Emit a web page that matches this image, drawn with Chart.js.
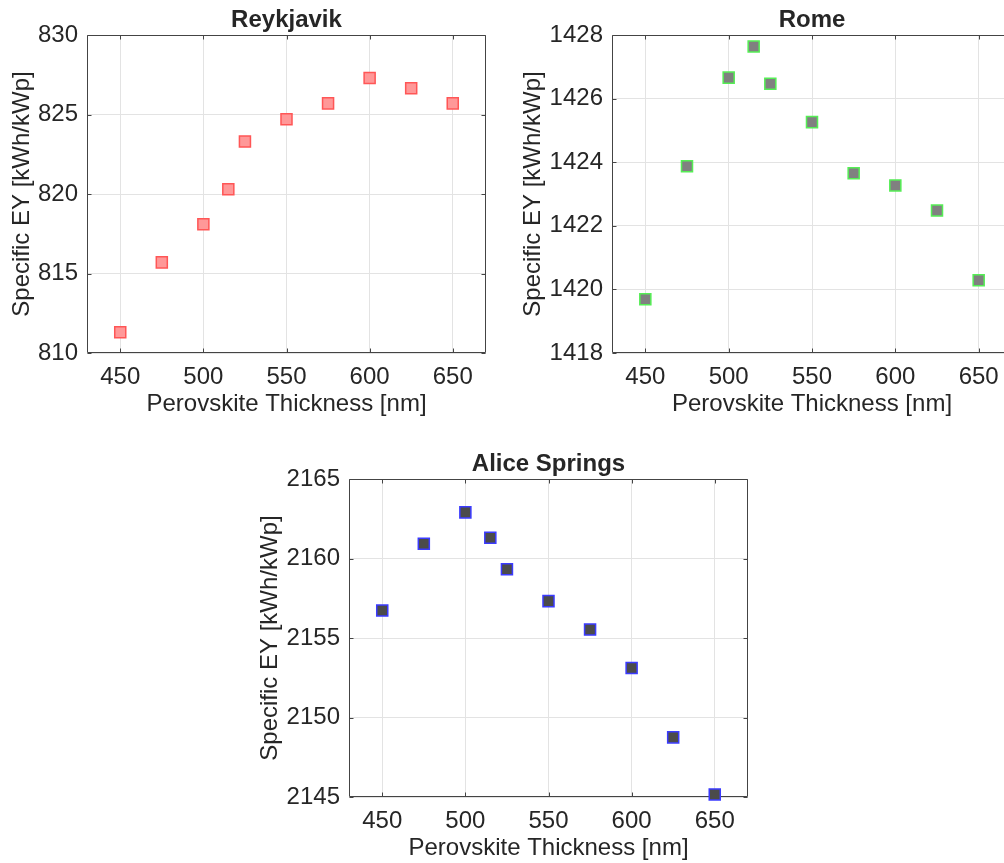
<!DOCTYPE html>
<html>
<head>
<meta charset="utf-8">
<script src="https://cdn.jsdelivr.net/npm/chart.js@4.4.0/dist/chart.umd.min.js"></script>
<style>
  html, body { margin: 0; padding: 0; background: #fff; overflow: hidden; width: 1004px; height: 863px; }
  canvas { position: absolute; }
</style>
</head>
<body>
<canvas id="reykjavik" width="500" height="430" style="left:0;top:0"></canvas>
<canvas id="rome" width="515" height="430" style="left:511px;top:0"></canvas>
<canvas id="alice" width="514" height="434" style="left:248px;top:440px"></canvas>
<script>
// x values shared by all three locations
const thickness = [450, 475, 500, 515, 525, 550, 575, 600, 625, 650];

// Specific energy yield per location
const reykjavikEY = [811.3, 815.7, 818.1, 820.3, 823.3, 824.7, 825.7, 827.3, 826.65, 825.7];
const romeEY = [1419.69, 1423.87, 1426.66, 1427.64, 1426.47, 1425.26, 1423.65, 1423.27, 1422.48, 1420.29];
const aliceEY = [2156.73, 2160.93, 2162.9, 2161.31, 2159.33, 2157.32, 2155.53, 2153.12, 2148.75, 2145.16];

// tick labels
const xTicks = [450, 500, 550, 600, 650];
const reykjavikTicks = [810, 815, 820, 825, 830];
const romeTicks = [1418, 1420, 1422, 1424, 1426, 1428];
const aliceTicks = [2145, 2150, 2155, 2160, 2165];

const fontFamily = '"Liberation Sans", Arial, sans-serif';
const textColor = '#262626';

// MATLAB style box with inward ticks and a bold title, drawn under the markers
const axesFrame = {
    id: 'axesFrame',
    beforeDatasetsDraw(chart, args, opts) {
        const { ctx, chartArea: a, scales: { x, y } } = chart;
        ctx.save();
        ctx.strokeStyle = '#444';
        ctx.lineWidth = 1;
        ctx.beginPath();
        const l = Math.round(a.left) + 0.5, r = Math.round(a.right) - 0.5;
        const t = Math.round(a.top) + 0.5, b = Math.round(a.bottom) - 0.5;
        ctx.rect(l, t, r - l, b - t);
        x.ticks.forEach(tk => {
            const px = Math.round(x.getPixelForValue(tk.value)) + 0.5;
            ctx.moveTo(px, b); ctx.lineTo(px, b - 4);
            ctx.moveTo(px, t); ctx.lineTo(px, t + 4);
        });
        y.ticks.forEach(tk => {
            const py = Math.round(y.getPixelForValue(tk.value)) + 0.5;
            ctx.moveTo(l, py); ctx.lineTo(l + 4, py);
            ctx.moveTo(r, py); ctx.lineTo(r - 4, py);
        });
        ctx.stroke();

        ctx.fillStyle = textColor;
        ctx.font = 'bold 24px ' + fontFamily;
        ctx.textAlign = 'center';
        ctx.textBaseline = 'alphabetic';
        ctx.fillText(opts.text, (a.left + a.right) / 2, a.top - 8);
        ctx.restore();
    }
};

function makeChart(id, title, values, yTicks, fill, edge, yAxisWidth, padTop) {
    const ctx = document.getElementById(id).getContext('2d');
    return new Chart(ctx, {
        type: 'scatter',
        data: {
            datasets: [{
                data: thickness.map((t, i) => ({ x: t, y: values[i] })),
                pointStyle: 'rect',
                pointRadius: 7.8,
                pointHoverRadius: 7.8,
                pointBorderWidth: 1.5,
                backgroundColor: fill,
                borderColor: edge,
                clip: false
            }]
        },
        options: {
            responsive: false,
            animation: false,
            events: [],
            layout: { padding: { top: padTop, right: 14, left: 0, bottom: 0 } },
            plugins: {
                legend: { display: false },
                tooltip: { enabled: false },
                axesFrame: { text: title }
            },
            scales: {
                x: {
                    type: 'linear',
                    min: 430,
                    max: 670,
                    afterBuildTicks: s => { s.ticks = xTicks.map(v => ({ value: v })); },
                    afterFit: s => { s.height = 77; },
                    grid: { color: '#e3e3e3', drawTicks: false },
                    border: { display: false },
                    ticks: {
                        padding: 10,
                        maxRotation: 0,
                        autoSkip: false,
                        color: textColor,
                        font: { family: fontFamily, size: 24 },
                        callback: v => String(v)
                    },
                    title: {
                        display: true,
                        text: 'Perovskite Thickness [nm]',
                        color: textColor,
                        font: { family: fontFamily, size: 24 },
                        padding: { top: 0, bottom: 11 }
                    }
                },
                y: {
                    type: 'linear',
                    min: yTicks[0],
                    max: yTicks[yTicks.length - 1],
                    afterBuildTicks: s => { s.ticks = yTicks.map(v => ({ value: v })); },
                    afterFit: s => { s.width = yAxisWidth; },
                    grid: { color: '#e3e3e3', drawTicks: false },
                    border: { display: false },
                    ticks: {
                        padding: 9,
                        autoSkip: false,
                        color: textColor,
                        font: { family: fontFamily, size: 24 },
                        callback: v => String(v)
                    },
                    title: {
                        display: true,
                        text: 'Specific EY [kWh/kWp]',
                        color: textColor,
                        font: { family: fontFamily, size: 24 },
                        padding: { top: 8, bottom: 0 }
                    }
                }
            }
        },
        plugins: [axesFrame]
    });
}

makeChart('reykjavik', 'Reykjavik', reykjavikEY, reykjavikTicks, '#ff9898', '#ff5656', 87, 35);
makeChart('rome', 'Rome', romeEY, romeTicks, '#808080', '#55ee55', 101, 35);
makeChart('alice', 'Alice Springs', aliceEY, aliceTicks, '#4b4b4b', '#3b3bff', 101, 39);
</script>
</body>
</html>
